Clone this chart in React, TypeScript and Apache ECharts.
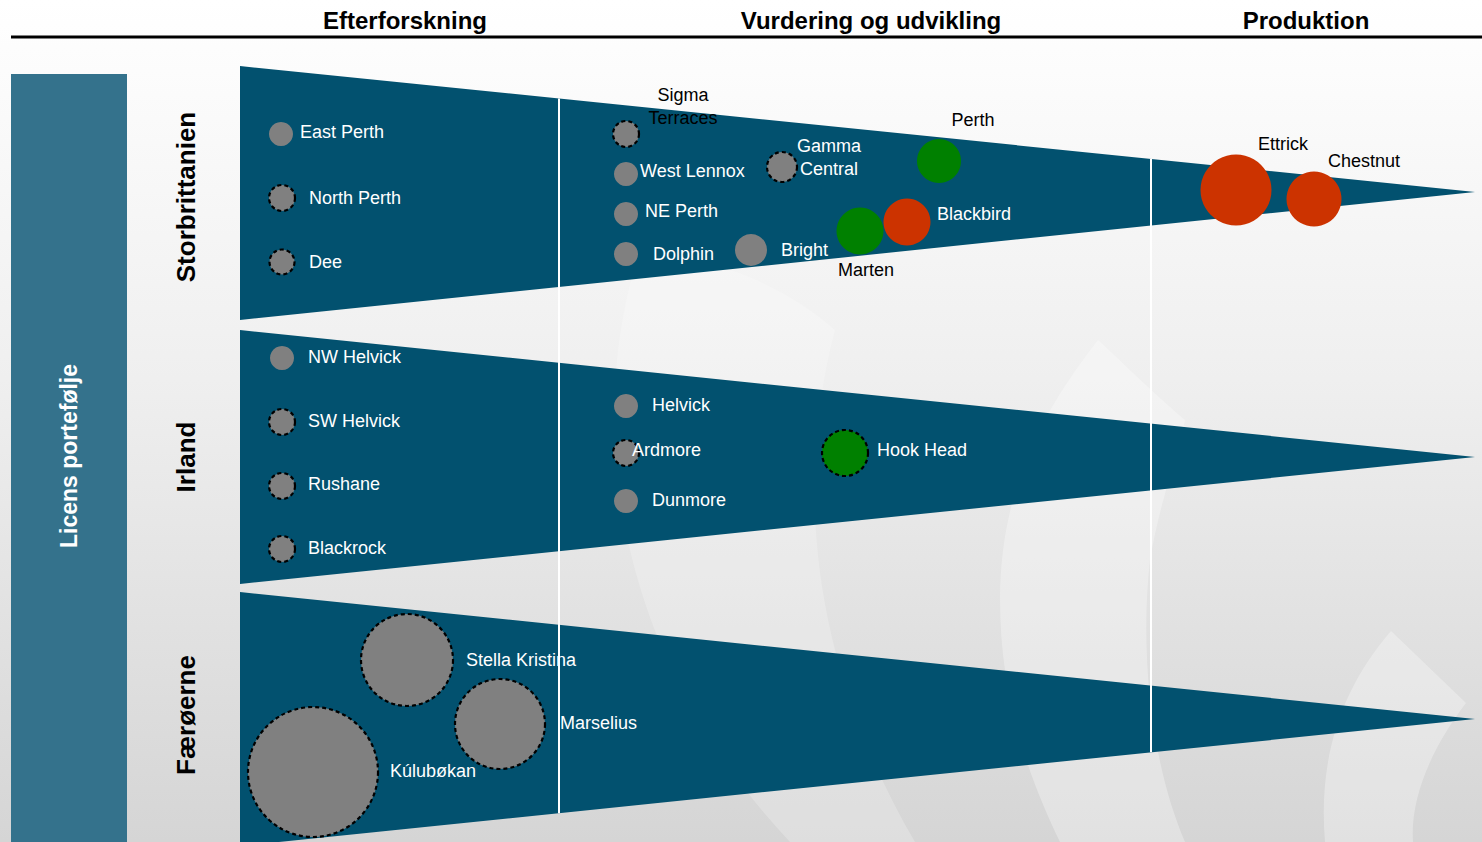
import React, { useEffect, useRef } from "react";
import * as echarts from "echarts";

// ---- Stage headers and country rows ----
const stages = ["Efterforskning", "Vurdering og udvikling", "Produktion"];
const stageCenters = [405, 871, 1306];
const countries = ["Storbrittanien", "Irland", "Færøerne"];
const countryCenters = [197, 457, 715];

// ---- Pennant shapes per country (chart units) ----
const pennantLeft = [240, 240, 240];
const pennantTop = [66, 330, 592];
const pennantBottom = [320, 584, 846];
const pennantTipX = [1475, 1475, 1475];
const pennantTipY = [192, 457, 719];
const stageDividers = [559, 1151];

// ---- Licences (bubbles) ----
const fieldNames = [
  "East Perth", "North Perth", "Dee",
  "Sigma\nTerraces", "West Lennox", "NE Perth", "Dolphin",
  "Gamma\nCentral", "Bright", "Marten", "Blackbird", "Perth",
  "Ettrick", "Chestnut",
  "NW Helvick", "SW Helvick", "Rushane", "Blackrock",
  "Helvick", "Ardmore", "Dunmore", "Hook Head",
  "Stella Kristina", "Marselius", "Kúlubøkan",
];
const fieldX = [
  281, 282, 282,
  626, 626, 626, 626,
  782, 751, 860, 907, 939,
  1236, 1314,
  282, 282, 282, 282,
  626, 626, 626, 845,
  407, 500, 313,
];
const fieldY = [
  134, 198, 262,
  134, 174, 214, 254,
  167, 250, 231, 222, 161,
  190, 199,
  358, 422, 486, 549,
  406, 453, 501, 453,
  660, 724, 772,
];
const fieldSize = [
  24, 26, 25,
  26, 24, 24, 24,
  30, 32, 47, 47, 44,
  71, 55,
  24, 26, 26, 26,
  24, 26, 24, 46,
  92, 90, 130,
];
const fieldStatus = [
  "prospect", "prospect", "prospect",
  "prospect", "prospect", "prospect", "prospect",
  "prospect", "prospect", "discovery", "producing", "discovery",
  "producing", "producing",
  "prospect", "prospect", "prospect", "prospect",
  "prospect", "prospect", "prospect", "discovery",
  "prospect", "prospect", "prospect",
];
const fieldUncertain = [
  false, true, true,
  true, false, false, false,
  true, false, false, false, false,
  false, false,
  false, true, true, true,
  false, true, false, true,
  true, true, true,
];

// ---- Styling (not data) ----
const statusColor: Record<string, string> = {
  prospect: "#808080",
  discovery: "#008000",
  producing: "#cc3300",
};
type Place = { dx: number; dy: number; align: "left" | "center"; dark?: boolean };
const labelPlacement: Record<string, Place> = {
  "East Perth": { dx: 19, dy: -2, align: "left" },
  "North Perth": { dx: 27, dy: 0, align: "left" },
  Dee: { dx: 27, dy: 0, align: "left" },
  "Sigma\nTerraces": { dx: 57, dy: -28, align: "center", dark: true },
  "West Lennox": { dx: 14, dy: -3, align: "left" },
  "NE Perth": { dx: 19, dy: -3, align: "left" },
  Dolphin: { dx: 27, dy: 0, align: "left" },
  "Gamma\nCentral": { dx: 47, dy: -10, align: "center" },
  Bright: { dx: 30, dy: 0, align: "left" },
  Marten: { dx: 6, dy: 39, align: "center", dark: true },
  Blackbird: { dx: 30, dy: -8, align: "left" },
  Perth: { dx: 34, dy: -41, align: "center", dark: true },
  Ettrick: { dx: 47, dy: -46, align: "center", dark: true },
  Chestnut: { dx: 50, dy: -38, align: "center", dark: true },
  "NW Helvick": { dx: 26, dy: -1, align: "left" },
  "SW Helvick": { dx: 26, dy: -1, align: "left" },
  Rushane: { dx: 26, dy: -2, align: "left" },
  Blackrock: { dx: 26, dy: -1, align: "left" },
  Helvick: { dx: 26, dy: -1, align: "left" },
  Ardmore: { dx: 6, dy: -3, align: "left" },
  Dunmore: { dx: 26, dy: -1, align: "left" },
  "Hook Head": { dx: 32, dy: -3, align: "left" },
  "Stella Kristina": { dx: 59, dy: 0, align: "left" },
  Marselius: { dx: 60, dy: -1, align: "left" },
  "Kúlubøkan": { dx: 77, dy: -1, align: "left" },
};

const W = 1482;
const H = 842;
const PENNANT = "#02516f";
const SANS = "Liberation Sans, Arial, sans-serif";

function edgeY(row: number, x: number, top: boolean) {
  const y0 = top ? pennantTop[row] : pennantBottom[row];
  const t = (x - pennantLeft[row]) / (pennantTipX[row] - pennantLeft[row]);
  return y0 + (pennantTipY[row] - y0) * t;
}

let registered = false;
function registerShapes() {
  if (registered) return;
  registered = true;
  echarts.graphic.registerShape(
    "wmBand",
    echarts.graphic.extendPath(
      "M 640 250 C 590 400 600 640 790 842 L 915 842 C 820 680 790 500 835 330 C 780 280 700 255 640 250 Z",
      {}
    )
  );
  echarts.graphic.registerShape(
    "wmFlame",
    echarts.graphic.extendPath(
      "M 1098 340 C 1060 390 1000 470 1000 600 C 1000 700 1030 780 1060 842 L 1185 842 C 1150 760 1140 650 1150 560 C 1160 500 1180 450 1185 420 C 1150 390 1120 360 1098 340 Z",
      {}
    )
  );
  echarts.graphic.registerShape(
    "wmFlame2",
    echarts.graphic.extendPath(
      "M 1391 631 L 1466 703 C 1430 750 1410 800 1413 842 L 1325 842 C 1318 760 1340 690 1391 631 Z",
      {}
    )
  );
}

export default function App() {
  const ref = useRef<HTMLDivElement>(null);

  useEffect(() => {
    document.body.style.margin = "0";
    document.body.style.overflow = "hidden";
    registerShapes();
    const chart = echarts.init(ref.current as HTMLDivElement, undefined, { renderer: "svg" });

    const pennantData = countries.map((_, i) => [
      pennantLeft[i], pennantTop[i], pennantBottom[i], pennantTipX[i], pennantTipY[i],
    ]);
    const dividerData = stageDividers.map((x) => [x, edgeY(0, x, true), edgeY(2, x, false)]);

    const bubbleData = fieldNames.map((name, i) => {
      const p = labelPlacement[name];
      return {
        name,
        value: [fieldX[i], fieldY[i], fieldSize[i]],
        itemStyle: {
          color: statusColor[fieldStatus[i]],
          opacity: 1,
          borderColor: "#000000",
          borderWidth: fieldUncertain[i] ? 2.2 : 0,
          borderType: [4, 3],
        },
        label: {
          show: true,
          position: "inside",
          formatter: name,
          offset: [p.dx, p.dy],
          align: p.align,
          verticalAlign: "middle",
          color: p.dark ? "#000000" : "#ffffff",
          fontFamily: SANS,
          fontSize: 18,
          lineHeight: 23,
        },
      };
    });

    const graphics: any[] = [
      { type: "wmBand", x: 0, y: 0, silent: true, style: { fill: "rgba(255,255,255,0.22)" } },
      { type: "wmFlame", x: 0, y: 0, silent: true, style: { fill: "rgba(255,255,255,0.3)" } },
      { type: "wmFlame2", x: 0, y: 0, silent: true, style: { fill: "rgba(255,255,255,0.3)" } },
      {
        type: "line",
        shape: { x1: 11, y1: 37, x2: W, y2: 37 },
        style: { stroke: "#000000", lineWidth: 3 },
      },
      {
        type: "rect",
        shape: { x: 11, y: 74, width: 116, height: H - 74 },
        style: { fill: "#34728c" },
      },
      {
        type: "text",
        x: 69,
        y: 456,
        rotation: Math.PI / 2,
        style: {
          text: "Licens portefølje",
          fill: "#ffffff",
          fontFamily: SANS,
          fontWeight: "bold",
          fontSize: 23,
          align: "center",
          verticalAlign: "middle",
        },
      },
    ];
    stages.forEach((s, i) => {
      graphics.push({
        type: "text",
        x: stageCenters[i],
        y: 20,
        style: {
          text: s,
          fill: "#000000",
          fontFamily: SANS,
          fontWeight: "bold",
          fontSize: 24,
          align: "center",
          verticalAlign: "middle",
        },
      });
    });
    countries.forEach((c, i) => {
      graphics.push({
        type: "text",
        x: 186,
        y: countryCenters[i],
        rotation: Math.PI / 2,
        style: {
          text: c,
          fill: "#000000",
          fontFamily: SANS,
          fontWeight: "bold",
          fontSize: 26,
          align: "center",
          verticalAlign: "middle",
        },
      });
    });

    chart.setOption({
      animation: false,
      backgroundColor: new echarts.graphic.LinearGradient(0, 0, 0, 1, [
        { offset: 0, color: "#ffffff" },
        { offset: 0.45, color: "#efefef" },
        { offset: 1, color: "#d5d5d5" },
      ]),
      grid: { left: 0, right: 0, top: 0, bottom: 0 },
      xAxis: { type: "value", min: 0, max: W, show: false },
      yAxis: { type: "value", min: 0, max: H, inverse: true, show: false },
      graphic: graphics,
      series: [
        {
          type: "custom",
          silent: true,
          z: 1,
          data: pennantData,
          renderItem: (_p: any, api: any) => {
            const a = api.coord([api.value(0), api.value(1)]);
            const b = api.coord([api.value(3), api.value(4)]);
            const c = api.coord([api.value(0), api.value(2)]);
            return { type: "polygon", shape: { points: [a, b, c] }, style: { fill: PENNANT } };
          },
        },
        {
          type: "custom",
          silent: true,
          z: 2,
          data: dividerData,
          renderItem: (_p: any, api: any) => {
            const a = api.coord([api.value(0), api.value(1)]);
            const b = api.coord([api.value(0), api.value(2)]);
            return {
              type: "line",
              shape: { x1: a[0], y1: a[1], x2: b[0], y2: b[1] },
              style: { stroke: "#ffffff", lineWidth: 2 },
            };
          },
        },
        {
          type: "scatter",
          z: 3,
          silent: true,
          symbol: "circle",
          symbolSize: (v: number[]) => v[2],
          itemStyle: { opacity: 1 },
          data: bubbleData,
          emphasis: { disabled: true },
        },
      ],
    });

    return () => chart.dispose();
  }, []);

  return <div ref={ref} style={{ width: W, height: H }} />;
}
